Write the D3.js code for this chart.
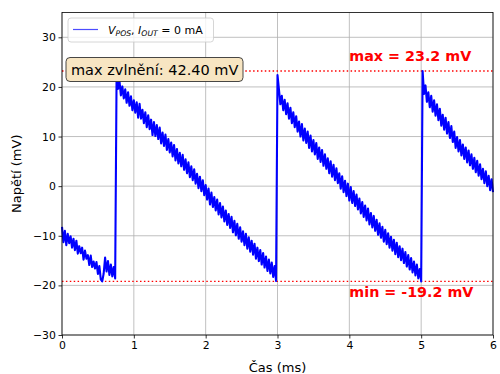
<!DOCTYPE html>
<html>
<head>
<meta charset="utf-8">
<script src="https://cdn.jsdelivr.net/npm/d3@7"></script>
<style>
  body { margin: 0; background: #fff; }
  svg { font-family: "DejaVu Sans", sans-serif; display: block; }
  .tick text { font-size: 10.85px; fill: #000; }
  .grid line { stroke: #b0b0b0; stroke-width: 0.8; }
</style>
</head>
<body>
<div id="chart"></div>
<script>
// oscilloscope record, one sample every 0.02 ms
const sampleMs = 0.02;
const voltage = [
  // 0.00 - 0.74
  -8.2, -11.3, -9.0, -11.9, -9.6, -11.5, -10.1, -12.4, -10.6, -12.9,
  -11.0, -13.6, -12.1, -13.5, -12.4, -14.8, -13.0, -14.6, -13.9, -15.9,
  -14.0, -16.3, -15.2, -16.6, -15.3, -17.7, -16.1, -18.8, -19.2, -17.6,
  -14.4, -17.2, -15.1, -17.9, -15.8, -18.2, -16.3, -18.6,
  // 0.76 - 2.98
  22.6, 19.6, 21.2, 18.3, 20.1, 17.7, 19.5, 16.8, 18.9, 16.2,
  18.1, 15.3, 17.3, 14.8, 16.9, 13.8, 16.6, 13.6, 15.4, 12.7,
  14.9, 11.9, 14.3, 11.5, 13.4, 10.3, 12.9, 10.1, 12.3, 9.5,
  11.8, 8.6, 10.8, 8.1, 10.4, 7.3, 9.5, 6.8, 8.8, 6.0,
  8.3, 5.2, 7.5, 4.6, 6.7, 4.0, 6.3, 3.3, 5.4, 2.6,
  4.8, 1.8, 4.0, 1.2, 3.4, 0.5, 2.5, -0.4, 1.9, -1.0,
  1.2, -1.8, 0.2, -2.7, -0.5, -3.7, -1.3, -4.2, -2.2, -4.9,
  -2.7, -5.7, -3.4, -6.3, -4.1, -7.1, -4.9, -7.8, -5.6, -8.4,
  -6.2, -9.3, -7.0, -9.9, -7.6, -10.6, -8.3, -11.2, -9.1, -11.9,
  -9.6, -12.6, -10.3, -13.2, -11.0, -13.8, -11.6, -14.6, -12.4, -15.1,
  -12.9, -15.8, -13.5, -16.4, -14.2, -17.1, -14.8, -17.6, -15.4, -18.3,
  -16.1, -19.1,
  // 3.00
  22.4,
  // 3.02 - 5.00
  19.5, 16.5, 18.2, 15.3, 17.4, 14.5, 16.7, 13.6, 15.8, 12.7,
  14.9, 11.9, 14.1, 11.0, 13.0, 10.0, 12.5, 9.2, 11.6, 8.7,
  11.0, 7.7, 10.2, 7.0, 9.3, 6.4, 8.7, 5.5, 7.8, 4.9,
  7.3, 4.1, 6.4, 3.5, 5.6, 2.6, 5.0, 1.9, 4.3, 1.2,
  3.6, 0.6, 2.6, -0.5, 2.0, -1.2, 1.1, -2.0, 0.5, -2.9,
  -0.2, -3.4, -1.0, -4.0, -1.7, -4.7, -2.5, -5.5, -3.2, -6.2,
  -3.9, -6.9, -4.5, -7.7, -5.4, -8.3, -6.0, -9.0, -6.8, -9.8,
  -7.5, -10.4, -8.2, -11.2, -8.8, -11.7, -9.5, -12.4, -10.2, -13.0,
  -10.8, -13.7, -11.4, -14.3, -12.1, -14.9, -12.6, -15.5, -13.3, -16.2,
  -13.9, -16.8, -14.5, -17.4, -15.2, -18.0, -15.8, -18.6, -16.7, -19.2,
  // 5.02
  23.2,
  // 5.04 - 6.00
  18.6, 20.3, 17.0, 18.9, 15.9, 18.2, 15.0, 17.3, 14.2, 16.5,
  13.3, 15.6, 12.2, 14.4, 11.4, 13.8, 10.6, 12.9, 9.7, 12.1,
  8.9, 11.0, 7.7, 9.9, 7.0, 9.3, 6.2, 8.4, 5.5, 7.8,
  4.8, 7.2, 4.2, 6.4, 3.5, 5.7, 2.8, 5.1, 2.1, 4.4,
  1.4, 3.5, 0.6, 3.0, 0.0, 2.1, -0.8, 1.4, -1.2
];
const xTicks = [0, 1, 2, 3, 4, 5, 6];
const yTicks = [-30, -20, -10, 0, 10, 20, 30];

const width = 500, height = 374;
const margin = { top: 12.5, right: 7, bottom: 39, left: 62 };
const innerW = width - margin.left - margin.right;
const innerH = height - margin.top - margin.bottom;

const vMax = d3.max(voltage);
const vMin = d3.min(voltage);
const ripple = vMax - vMin;

const x = d3.scaleLinear().domain([0, 6]).range([0, innerW]);
const y = d3.scaleLinear().domain([-30, 35]).range([innerH, 0]);

const svg = d3.select("#chart").append("svg")
  .attr("width", width).attr("height", height);
const g = svg.append("g").attr("transform", `translate(${margin.left},${margin.top})`);

// grid
g.append("g").attr("class", "grid")
  .selectAll("line").data(xTicks).join("line")
  .attr("x1", d => x(d)).attr("x2", d => x(d)).attr("y1", 0).attr("y2", innerH);
g.append("g").attr("class", "grid")
  .selectAll("line").data(yTicks).join("line")
  .attr("y1", d => y(d)).attr("y2", d => y(d)).attr("x1", 0).attr("x2", innerW);

// threshold lines
[vMax, vMin].forEach(v => {
  g.append("line")
    .attr("x1", 0).attr("x2", innerW)
    .attr("y1", y(v)).attr("y2", y(v))
    .attr("stroke", "red").attr("stroke-width", 1.4)
    .attr("stroke-dasharray", "1.5,2.4");
});

// trace
const line = d3.line()
  .x((d, i) => x(i * sampleMs))
  .y(d => y(d));
g.append("path").datum(voltage)
  .attr("d", line)
  .attr("fill", "none")
  .attr("stroke", "#0000ff")
  .attr("stroke-width", 2.1)
  .attr("stroke-linejoin", "round");

// axes
const fmt = d => d < 0 ? "\u2212" + Math.abs(d) : String(d);
const xAxis = g.append("g").attr("transform", `translate(0,${innerH})`)
  .call(d3.axisBottom(x).tickValues(xTicks).tickFormat(fmt).tickSize(3.5).tickPadding(2.7));
const yAxis = g.append("g")
  .call(d3.axisLeft(y).tickValues(yTicks).tickFormat(fmt).tickSize(3.5).tickPadding(2.7));
[xAxis, yAxis].forEach(a => {
  a.select(".domain").remove();
  a.selectAll(".tick line").attr("stroke", "#000").attr("stroke-width", 0.8);
  a.attr("font-family", null).attr("font-size", null);
});

// frame
g.append("rect").attr("width", innerW).attr("height", innerH)
  .attr("fill", "none").attr("stroke", "#000").attr("stroke-width", 0.8);

// axis labels
svg.append("text")
  .attr("x", margin.left + innerW / 2).attr("y", 372)
  .attr("text-anchor", "middle").attr("font-size", 13)
  .text("Čas (ms)");
svg.append("text")
  .attr("transform", `translate(21,${margin.top + innerH / 2}) rotate(-90)`)
  .attr("text-anchor", "middle").attr("font-size", 13)
  .text("Napětí (mV)");

// max / min labels
g.append("text")
  .attr("x", x(4)).attr("y", y(vMax) - 10.5)
  .attr("fill", "red").attr("font-weight", "bold").attr("font-size", 14.3)
  .text(`max = ${vMax.toFixed(1)} mV`);
g.append("text")
  .attr("x", x(4)).attr("y", y(vMin) + 15.5)
  .attr("fill", "red").attr("font-weight", "bold").attr("font-size", 14.3)
  .text(`min = ${vMin.toFixed(1)} mV`);

// ripple box
const box = g.append("g").attr("transform", "translate(4,45)");
box.append("rect")
  .attr("width", 177).attr("height", 24).attr("rx", 4)
  .attr("fill", "#f7e5c2").attr("stroke", "#333").attr("stroke-width", 0.9);
box.append("text")
  .attr("x", 5).attr("y", 17.5).attr("font-size", 14.5)
  .text(`max zvlnění: ${ripple.toFixed(2)} mV`);

// legend
const leg = g.append("g").attr("transform", "translate(6,5.5)");
leg.append("rect")
  .attr("width", 145.5).attr("height", 24).attr("rx", 3)
  .attr("fill", "#fff").attr("fill-opacity", 0.8)
  .attr("stroke", "#ccc").attr("stroke-width", 0.8);
leg.append("line")
  .attr("x1", 5).attr("x2", 30).attr("y1", 11.5).attr("y2", 11.5)
  .attr("stroke", "#0000ff").attr("stroke-opacity", 0.7).attr("stroke-width", 1.2);
const lt = leg.append("text").attr("x", 40).attr("y", 15.5).attr("font-size", 11);
lt.append("tspan").attr("font-style", "italic").text("V");
lt.append("tspan").attr("font-style", "italic").attr("font-size", 7.7).attr("dy", 2).text("POS");
lt.append("tspan").attr("dy", -2).text(", ");
lt.append("tspan").attr("font-style", "italic").text("I");
lt.append("tspan").attr("font-style", "italic").attr("font-size", 7.7).attr("dy", 2).text("OUT");
lt.append("tspan").attr("dy", -2).text(" = 0 mA");
</script>
</body>
</html>
